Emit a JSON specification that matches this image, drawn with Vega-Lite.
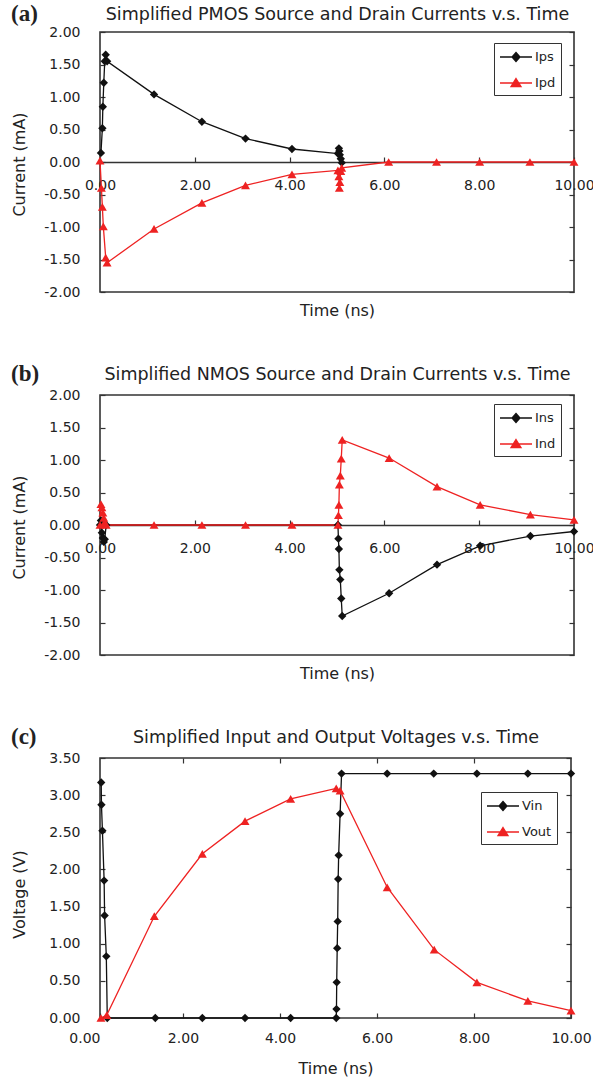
{
  "$schema": "https://vega.github.io/schema/vega-lite/v6.json",
  "background": "white",
  "autosize": {"type": "pad"},
  "padding": {"left": 10, "top": 2, "right": 0, "bottom": 0},
  "config": {
    "font": "DejaVu Sans",
    "view": {"stroke": "#333", "strokeWidth": 1.6},
    "axis": {"labelFont": "DejaVu Sans", "labelFontSize": 14, "labelColor": "#222", "titleFont": "DejaVu Sans", "titleFontSize": 16, "titleFontWeight": "normal", "titleColor": "#222", "grid": false, "tickColor": "#333", "tickWidth": 1.2, "domainColor": "#333", "domainWidth": 1.6, "labelFlush": false, "labelOverlap": false, "labelBound": false},
    "title": {"font": "Liberation Serif", "fontSize": 23, "fontWeight": "bold", "anchor": "start", "frame": "bounds", "color": "#222", "baseline": "alphabetic"},
    "legend": {"padding": 5, "rowPadding": 9, "symbolSize": 256, "symbolStrokeWidth": 1.3, "labelOffset": 18, "labelFontSize": 13, "labelFont": "DejaVu Sans", "labelColor": "#222", "strokeColor": "#333", "fillColor": "white", "symbolOpacity": 1}
  },
  "bounds": "flush",
  "spacing": 103,
  "resolve": {"scale": {"fill": "independent", "stroke": "independent", "shape": "independent"}, "legend": {"fill": "independent", "stroke": "independent", "shape": "independent"}},
  "vconcat": [
    {
      "width": 474, "height": 260,
      "title": {"text": "(a)", "offset": -21},
      "data": {"values": [
        {"s":"Ips","t":0.02,"v":0.14},{"s":"Ips","t":0.05,"v":0.52},{"s":"Ips","t":0.06,"v":0.85},{"s":"Ips","t":0.08,"v":1.22},{"s":"Ips","t":0.10,"v":1.55},{"s":"Ips","t":0.12,"v":1.65},{"s":"Ips","t":0.15,"v":1.55},{"s":"Ips","t":1.14,"v":1.04},{"s":"Ips","t":2.15,"v":0.62},{"s":"Ips","t":3.07,"v":0.36},{"s":"Ips","t":4.05,"v":0.20},{"s":"Ips","t":5.02,"v":0.13},{"s":"Ips","t":5.04,"v":0.21},{"s":"Ips","t":5.05,"v":0.17},{"s":"Ips","t":5.06,"v":0.11},{"s":"Ips","t":5.08,"v":0.05},{"s":"Ips","t":5.10,"v":-0.01},
        {"s":"Ipd","t":0.00,"v":0.02},{"s":"Ipd","t":0.03,"v":-0.40},{"s":"Ipd","t":0.05,"v":-0.69},{"s":"Ipd","t":0.07,"v":-0.99},{"s":"Ipd","t":0.12,"v":-1.47},{"s":"Ipd","t":0.15,"v":-1.55},{"s":"Ipd","t":1.14,"v":-1.03},{"s":"Ipd","t":2.15,"v":-0.63},{"s":"Ipd","t":3.07,"v":-0.36},{"s":"Ipd","t":4.05,"v":-0.19},{"s":"Ipd","t":5.02,"v":-0.13},{"s":"Ipd","t":5.04,"v":-0.22},{"s":"Ipd","t":5.05,"v":-0.40},{"s":"Ipd","t":5.06,"v":-0.31},{"s":"Ipd","t":5.08,"v":-0.14},{"s":"Ipd","t":5.10,"v":-0.09},{"s":"Ipd","t":6.09,"v":0},{"s":"Ipd","t":7.10,"v":0},{"s":"Ipd","t":8.01,"v":0},{"s":"Ipd","t":9.07,"v":0},{"s":"Ipd","t":10.0,"v":0}
      ]},
      "layer": [
        {"transform": [{"filter": "datum.s == 'Ips'"}],
         "mark": {"type": "line", "strokeWidth": 1.3, "color": "#111111"},
         "encoding": {
           "x": {"field": "t", "type": "quantitative", "scale": {"domain": [0, 10], "nice": false, "zero": false},
                 "axis": {"orient": "bottom", "offset": -130, "values": [0,2,4,6,8,10], "labelExpr": "format(datum.value, '.2f')", "tickSize": -5, "labelPadding": 21, "title": "Time (ns)", "titleY": 148, "titleBaseline": "middle", "domain": true}},
           "y": {"field": "v", "type": "quantitative", "scale": {"domain": [-2, 2], "nice": false, "zero": false},
                 "axis": {"orient": "left", "values": [-2,-1.5,-1,-0.5,0,0.5,1,1.5,2], "labelExpr": "(datum.value < 0 ? '-' : '') + format(abs(datum.value), '.2f')", "tickSize": -5, "labelPadding": 25, "domain": false, "title": "Current (mA)", "titleX": -81, "titleY": 132, "titleAngle": -90, "titleBaseline": "middle", "titleAlign": "center"}}
         }},
        {"transform": [{"filter": "datum.s == 'Ipd'"}],
         "mark": {"type": "line", "strokeWidth": 1.3, "color": "#ee2222"},
         "encoding": {
           "x": {"field": "t", "type": "quantitative", "axis": null},
           "y": {"field": "v", "type": "quantitative", "axis": null}
         }},
        {"transform": [{"filter": "datum.s == 'Ips'"}],
         "mark": {"type": "point", "filled": true, "opacity": 1, "shape": "diamond", "size": 70, "color": "#111111"},
         "encoding": {
           "x": {"field": "t", "type": "quantitative", "axis": {"orient": "top", "title": "Simplified PMOS Source and Drain Currents v.s. Time", "titleFontSize": 17.5, "titlePadding": 9, "labels": false, "ticks": false, "domain": false, "values": [2,4,6,8]}},
           "y": {"field": "v", "type": "quantitative", "axis": {"orient": "right", "values": [-2,-1.5,-1,-0.5,0,0.5,1,1.5,2], "tickSize": -5, "labels": false, "domain": false, "title": null}}
         }},
        {"transform": [{"filter": "datum.s == 'Ipd'"}],
         "mark": {"type": "point", "filled": true, "opacity": 1, "shape": "triangle-up", "size": 80, "color": "#ee2222"},
         "encoding": {
           "x": {"field": "t", "type": "quantitative", "axis": null},
           "y": {"field": "v", "type": "quantitative", "axis": null}
         }},
        {"mark": {"type": "point", "size": 256, "strokeWidth": 1.3, "opacity": 0},
         "encoding": {
           "x": {"field": "t", "type": "quantitative", "axis": null},
           "y": {"field": "v", "type": "quantitative", "axis": null},
           "fill": {"field": "s", "type": "nominal", "scale": {"domain": ["Ips", "Ipd"], "range": ["#111111", "#ee2222"]}, "legend": {"orient": "none", "legendX": 394, "legendY": 11, "title": null}},
           "stroke": {"field": "s", "type": "nominal", "scale": {"domain": ["Ips", "Ipd"], "range": ["#111111", "#ee2222"]}, "legend": {"orient": "none", "legendX": 394, "legendY": 11, "title": null}},
           "shape": {"field": "s", "type": "nominal", "scale": {"domain": ["Ips", "Ipd"], "range": ["M-1,0H3M1,-0.5625L1.5,0L1,0.5625L0.5,0Z", "M-1,0H3M1,-0.5625L1.625,0.4375L0.375,0.4375Z"]}, "legend": {"orient": "none", "legendX": 394, "legendY": 11, "title": null}}
         }}
      ],
      "resolve": {"axis": {"x": "independent", "y": "independent"}}
    },
    {
      "width": 474, "height": 260,
      "title": {"text": "(b)", "offset": -21},
      "data": {"values": [
        {"s":"Ins","t":0.00,"v":0.00},{"s":"Ins","t":0.02,"v":0.07},{"s":"Ins","t":0.04,"v":-0.12},{"s":"Ins","t":0.06,"v":-0.20},{"s":"Ins","t":0.08,"v":-0.26},{"s":"Ins","t":0.10,"v":-0.22},{"s":"Ins","t":0.13,"v":0.0},{"s":"Ins","t":5.02,"v":0.0},{"s":"Ins","t":5.03,"v":-0.21},{"s":"Ins","t":5.04,"v":-0.37},{"s":"Ins","t":5.05,"v":-0.69},{"s":"Ins","t":5.07,"v":-0.84},{"s":"Ins","t":5.09,"v":-1.13},{"s":"Ins","t":5.11,"v":-1.40},{"s":"Ins","t":6.10,"v":-1.05},{"s":"Ins","t":7.11,"v":-0.61},{"s":"Ins","t":8.02,"v":-0.32},{"s":"Ins","t":9.08,"v":-0.17},{"s":"Ins","t":10.0,"v":-0.10},
        {"s":"Ind","t":0.00,"v":0.00},{"s":"Ind","t":0.02,"v":0.32},{"s":"Ind","t":0.04,"v":0.27},{"s":"Ind","t":0.06,"v":0.19},{"s":"Ind","t":0.08,"v":0.11},{"s":"Ind","t":0.10,"v":0.04},{"s":"Ind","t":0.13,"v":0.0},{"s":"Ind","t":1.14,"v":0},{"s":"Ind","t":2.15,"v":0},{"s":"Ind","t":3.07,"v":0},{"s":"Ind","t":4.05,"v":0},{"s":"Ind","t":5.02,"v":0},{"s":"Ind","t":5.03,"v":0.15},{"s":"Ind","t":5.04,"v":0.31},{"s":"Ind","t":5.05,"v":0.62},{"s":"Ind","t":5.07,"v":0.76},{"s":"Ind","t":5.09,"v":1.02},{"s":"Ind","t":5.11,"v":1.31},{"s":"Ind","t":6.10,"v":1.03},{"s":"Ind","t":7.11,"v":0.59},{"s":"Ind","t":8.02,"v":0.31},{"s":"Ind","t":9.08,"v":0.16},{"s":"Ind","t":10.0,"v":0.08}
      ]},
      "layer": [
        {"transform": [{"filter": "datum.s == 'Ins'"}],
         "mark": {"type": "line", "strokeWidth": 1.3, "color": "#111111"},
         "encoding": {
           "x": {"field": "t", "type": "quantitative", "scale": {"domain": [0, 10], "nice": false, "zero": false},
                 "axis": {"orient": "bottom", "offset": -130, "values": [0,2,4,6,8,10], "labelExpr": "format(datum.value, '.2f')", "tickSize": -5, "labelPadding": 21, "title": "Time (ns)", "titleY": 148, "titleBaseline": "middle", "domain": true}},
           "y": {"field": "v", "type": "quantitative", "scale": {"domain": [-2, 2], "nice": false, "zero": false},
                 "axis": {"orient": "left", "values": [-2,-1.5,-1,-0.5,0,0.5,1,1.5,2], "labelExpr": "(datum.value < 0 ? '-' : '') + format(abs(datum.value), '.2f')", "tickSize": -5, "labelPadding": 25, "domain": false, "title": "Current (mA)", "titleX": -81, "titleY": 132, "titleAngle": -90, "titleBaseline": "middle", "titleAlign": "center"}}
         }},
        {"transform": [{"filter": "datum.s == 'Ind'"}],
         "mark": {"type": "line", "strokeWidth": 1.3, "color": "#ee2222"},
         "encoding": {
           "x": {"field": "t", "type": "quantitative", "axis": null},
           "y": {"field": "v", "type": "quantitative", "axis": null}
         }},
        {"transform": [{"filter": "datum.s == 'Ins'"}],
         "mark": {"type": "point", "filled": true, "opacity": 1, "shape": "diamond", "size": 70, "color": "#111111"},
         "encoding": {
           "x": {"field": "t", "type": "quantitative", "axis": {"orient": "top", "title": "Simplified NMOS Source and Drain Currents v.s. Time", "titleFontSize": 17.5, "titlePadding": 12, "labels": false, "ticks": false, "domain": false, "values": [2,4,6,8]}},
           "y": {"field": "v", "type": "quantitative", "axis": {"orient": "right", "values": [-2,-1.5,-1,-0.5,0,0.5,1,1.5,2], "tickSize": -5, "labels": false, "domain": false, "title": null}}
         }},
        {"transform": [{"filter": "datum.s == 'Ind'"}],
         "mark": {"type": "point", "filled": true, "opacity": 1, "shape": "triangle-up", "size": 80, "color": "#ee2222"},
         "encoding": {
           "x": {"field": "t", "type": "quantitative", "axis": null},
           "y": {"field": "v", "type": "quantitative", "axis": null}
         }},
        {"mark": {"type": "point", "size": 256, "strokeWidth": 1.3, "opacity": 0},
         "encoding": {
           "x": {"field": "t", "type": "quantitative", "axis": null},
           "y": {"field": "v", "type": "quantitative", "axis": null},
           "fill": {"field": "s", "type": "nominal", "scale": {"domain": ["Ins", "Ind"], "range": ["#111111", "#ee2222"]}, "legend": {"orient": "none", "legendX": 394, "legendY": 9, "title": null}},
           "stroke": {"field": "s", "type": "nominal", "scale": {"domain": ["Ins", "Ind"], "range": ["#111111", "#ee2222"]}, "legend": {"orient": "none", "legendX": 394, "legendY": 9, "title": null}},
           "shape": {"field": "s", "type": "nominal", "scale": {"domain": ["Ins", "Ind"], "range": ["M-1,0H3M1,-0.5625L1.5,0L1,0.5625L0.5,0Z", "M-1,0H3M1,-0.5625L1.625,0.4375L0.375,0.4375Z"]}, "legend": {"orient": "none", "legendX": 394, "legendY": 9, "title": null}}
         }}
      ],
      "resolve": {"axis": {"x": "independent", "y": "independent"}}
    },
    {
      "width": 471, "height": 260,
      "title": {"text": "(c)", "offset": -21},
      "data": {"values": [
        {"s":"Vin","t":0.315,"v":3.17},{"s":"Vin","t":0.32,"v":2.87},{"s":"Vin","t":0.34,"v":2.52},{"s":"Vin","t":0.375,"v":1.85},{"s":"Vin","t":0.385,"v":1.38},{"s":"Vin","t":0.42,"v":0.83},{"s":"Vin","t":0.44,"v":0.0},{"s":"Vin","t":1.43,"v":0},{"s":"Vin","t":2.40,"v":0},{"s":"Vin","t":3.28,"v":0},{"s":"Vin","t":4.22,"v":0},{"s":"Vin","t":5.16,"v":0},{"s":"Vin","t":5.165,"v":0.12},{"s":"Vin","t":5.17,"v":0.48},{"s":"Vin","t":5.18,"v":0.94},{"s":"Vin","t":5.19,"v":1.30},{"s":"Vin","t":5.20,"v":1.87},{"s":"Vin","t":5.21,"v":2.19},{"s":"Vin","t":5.24,"v":2.75},{"s":"Vin","t":5.27,"v":3.29},{"s":"Vin","t":6.21,"v":3.29},{"s":"Vin","t":7.17,"v":3.29},{"s":"Vin","t":8.06,"v":3.29},{"s":"Vin","t":9.11,"v":3.29},{"s":"Vin","t":10.0,"v":3.29},
        {"s":"Vout","t":0.31,"v":0.0},{"s":"Vout","t":0.43,"v":0.04},{"s":"Vout","t":1.41,"v":1.37},{"s":"Vout","t":2.40,"v":2.21},{"s":"Vout","t":3.28,"v":2.65},{"s":"Vout","t":4.22,"v":2.95},{"s":"Vout","t":5.16,"v":3.09},{"s":"Vout","t":5.24,"v":3.06},{"s":"Vout","t":6.21,"v":1.76},{"s":"Vout","t":7.18,"v":0.92},{"s":"Vout","t":8.06,"v":0.48},{"s":"Vout","t":9.11,"v":0.23},{"s":"Vout","t":10.0,"v":0.10}
      ]},
      "layer": [
        {"transform": [{"filter": "datum.s == 'Vin'"}],
         "mark": {"type": "line", "strokeWidth": 1.3, "color": "#111111"},
         "encoding": {
           "x": {"field": "t", "type": "quantitative", "scale": {"domain": [0.29, 10], "nice": false, "zero": false},
                 "axis": {"orient": "bottom", "values": [0.29,2,4,6,8,10], "labelExpr": "datum.value < 1 ? '0.00' : format(datum.value, '.2f')", "labelAlign": {"condition": {"test": "datum.value < 1", "value": "right"}, "value": "center"}, "tickSize": -5, "labelPadding": 18, "title": "Time (ns)", "titleY": 50, "titleBaseline": "middle", "domain": false}},
           "y": {"field": "v", "type": "quantitative", "scale": {"domain": [0, 3.5], "nice": false, "zero": false},
                 "axis": {"orient": "left", "values": [0,0.5,1,1.5,2,2.5,3,3.5], "labelExpr": "format(datum.value, '.2f')", "tickSize": -5, "labelPadding": 25, "domain": false, "title": "Voltage (V)", "titleX": -81, "titleY": 136, "titleAngle": -90, "titleBaseline": "middle", "titleAlign": "center"}}
         }},
        {"transform": [{"filter": "datum.s == 'Vout'"}],
         "mark": {"type": "line", "strokeWidth": 1.3, "color": "#ee2222"},
         "encoding": {
           "x": {"field": "t", "type": "quantitative", "axis": null},
           "y": {"field": "v", "type": "quantitative", "axis": null}
         }},
        {"transform": [{"filter": "datum.s == 'Vin'"}],
         "mark": {"type": "point", "filled": true, "opacity": 1, "shape": "diamond", "size": 70, "color": "#111111"},
         "encoding": {
           "x": {"field": "t", "type": "quantitative", "axis": {"orient": "top", "title": "Simplified Input and Output Voltages v.s. Time", "titleFontSize": 17.5, "titlePadding": 11, "labels": false, "ticks": true, "tickSize": -5, "domain": false, "values": [2,4,6,8]}},
           "y": {"field": "v", "type": "quantitative", "axis": {"orient": "right", "values": [0,0.5,1,1.5,2,2.5,3,3.5], "tickSize": -5, "labels": false, "domain": false, "title": null}}
         }},
        {"transform": [{"filter": "datum.s == 'Vout'"}],
         "mark": {"type": "point", "filled": true, "opacity": 1, "shape": "triangle-up", "size": 80, "color": "#ee2222"},
         "encoding": {
           "x": {"field": "t", "type": "quantitative", "axis": null},
           "y": {"field": "v", "type": "quantitative", "axis": null}
         }},
        {"mark": {"type": "point", "size": 256, "strokeWidth": 1.3, "opacity": 0},
         "encoding": {
           "x": {"field": "t", "type": "quantitative", "axis": null},
           "y": {"field": "v", "type": "quantitative", "axis": null},
           "fill": {"field": "s", "type": "nominal", "scale": {"domain": ["Vin", "Vout"], "range": ["#111111", "#ee2222"]}, "legend": {"orient": "none", "legendX": 381, "legendY": 34, "title": null}},
           "stroke": {"field": "s", "type": "nominal", "scale": {"domain": ["Vin", "Vout"], "range": ["#111111", "#ee2222"]}, "legend": {"orient": "none", "legendX": 381, "legendY": 34, "title": null}},
           "shape": {"field": "s", "type": "nominal", "scale": {"domain": ["Vin", "Vout"], "range": ["M-1,0H3M1,-0.5625L1.5,0L1,0.5625L0.5,0Z", "M-1,0H3M1,-0.5625L1.625,0.4375L0.375,0.4375Z"]}, "legend": {"orient": "none", "legendX": 381, "legendY": 34, "title": null}}
         }}
      ],
      "resolve": {"axis": {"x": "independent", "y": "independent"}}
    }
  ]
}
